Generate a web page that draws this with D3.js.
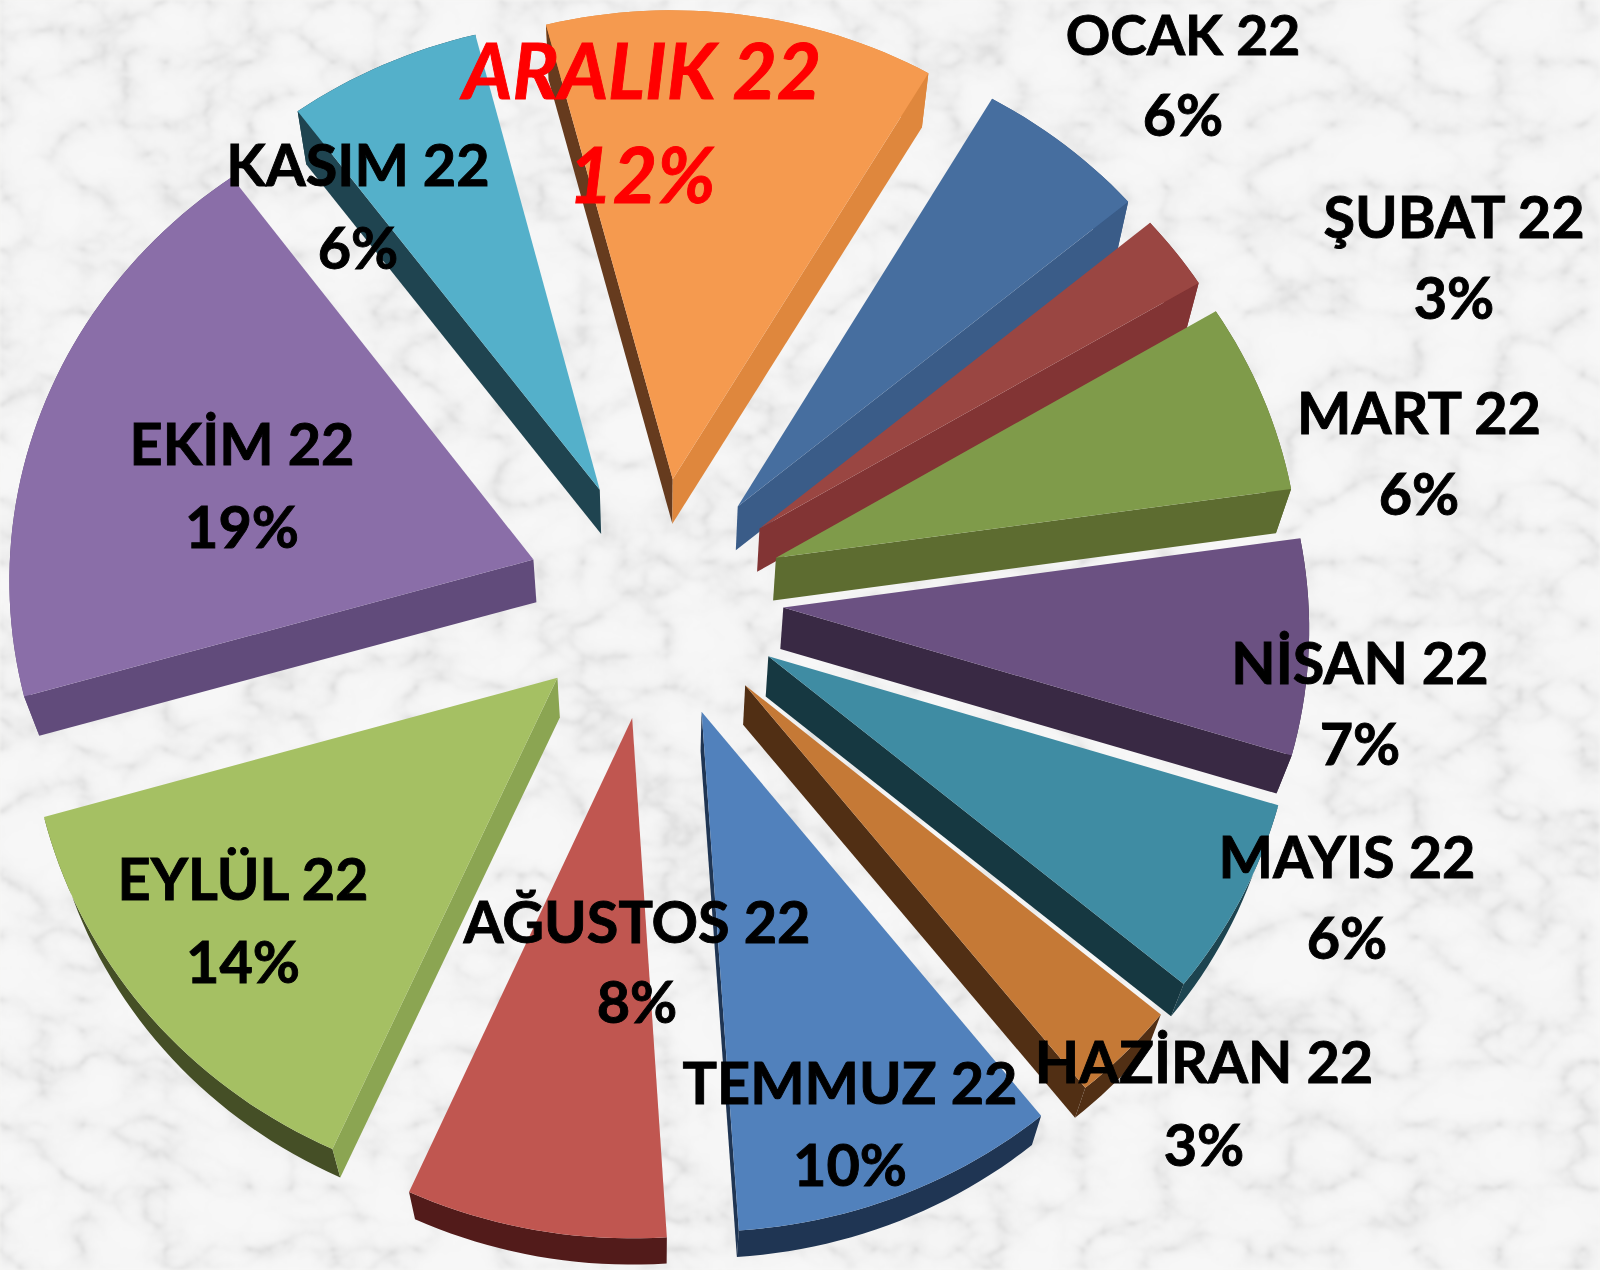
<!DOCTYPE html>
<html lang="tr">
<head>
<meta charset="utf-8">
<script src="https://d3js.org/d3.v7.min.js"></script>
<style>
html,body{margin:0;padding:0;background:#f6f6f5;}
svg{display:block;}
text{font-family:Lato,Carlito,"Open Sans",sans-serif;font-weight:700;text-anchor:middle;}
</style>
</head>
<body>
<svg id="chart" width="1600" height="1270"></svg>
<script>
// ---- data ----
const months = ["ARALIK 22","OCAK 22","ŞUBAT 22","MART 22","NİSAN 22","MAYIS 22","HAZİRAN 22","TEMMUZ 22","AĞUSTOS 22","EYLÜL 22","EKİM 22","KASIM 22"];
const shares = [12.5,5.5,2.5,6.3,7.05,6.35,3.2,9.65,7.7,13.9,19.25,6.2];
const percentLabels = ["12%","6%","3%","6%","7%","6%","3%","10%","8%","14%","19%","6%"];

// ---- styles ----
const topColors   = ["#F59A4F","#466E9F","#9A4642","#7F9B4A","#6B5182","#3F8CA3","#C57936","#5181BC","#C05650","#A5C063","#8A6EA8","#54B0CA"];
const rimColors   = ["#DF873D","#3A5C88","#823434","#5D6C30","#392944","#1D4450","#512F14","#1F3553","#521B1A","#454F26","#614B7B","#1F4450"];
const startColors = ["#663B1E","#2B4566","#5c2422","#434f22","#2a1d33","#163841","#512F14","#16273d","#3d1413","#8BA552","#614B7B","#1F4450"];
const endColors   = ["#DF873D","#3A5C88","#823434","#5D6C30","#392944","#163841","#512F14","#1F3553","#521B1A","#6c8040","#614B7B","#1F4450"];
// label centre x, first baseline y, second baseline y
const labelAnchors = [[642,99,203],[1183,55,136],[1454,238,319],[1419,434,515],[1360,684,765],[1347,878,959],[1204,1083,1166],[850,1104,1186],[637,943,1023],[243,900,983],[242,465,548],[358,186,269]];

// ---- geometry ----
const cx=655, cy=598, radius=525, tilt=0.94, persp=0.035, explode=0.245;
const vanish=[658,2333], depth=0.024;
const scaleR = d3.scaleLinear().domain([0,1]).range([0,radius]);

function project(u,v){
  const w=1+persp*v;
  return [cx+scaleR(u)/w, cy-scaleR(v)*tilt/w];
}
function lower(p){ return [p[0]+(vanish[0]-p[0])*depth, p[1]+(vanish[1]-p[1])*depth]; }

const svg=d3.select("#chart");
const defs=svg.append("defs");
const f=defs.append("filter").attr("id","marble").attr("x",0).attr("y",0).attr("width","100%").attr("height","100%")
  .attr("color-interpolation-filters","sRGB");
f.append("feTurbulence").attr("type","turbulence").attr("baseFrequency","0.012 0.016").attr("numOctaves",5).attr("seed",7);
f.append("feColorMatrix").attr("type","matrix").attr("values",
  "1 0 0 0 0  1 0 0 0 0  1 0 0 0 0  0 0 0 0 1");
const ct=f.append("feComponentTransfer");
["feFuncR","feFuncG","feFuncB"].forEach(n=>ct.append(n).attr("type","table").attr("tableValues",".85 .92 .95 .962 .968 .97 .97 .97 .97"));
f.append("feGaussianBlur").attr("stdDeviation",1.4);
svg.append("rect").attr("width",1600).attr("height",1270).attr("filter","url(#marble)");

const pie=d3.pie().sort(null).value(d=>d).startAngle(-14.5*Math.PI/180).endAngle(345.5*Math.PI/180);
const arcs=pie(shares);
const line=d3.line();

const slices=arcs.map((a,i)=>{
  const mid=(a.startAngle+a.endAngle)/2;
  const ox=explode*Math.sin(mid), oy=explode*Math.cos(mid);
  const n=Math.max(8,Math.ceil((a.endAngle-a.startAngle)*40));
  const rimTop=d3.range(n+1).map(k=>{
    const t=a.startAngle+(a.endAngle-a.startAngle)*k/n;
    return project(ox+Math.sin(t),oy+Math.cos(t));
  });
  const apex=project(ox,oy);
  return {i,apex,rimTop,rimLow:rimTop.map(p=>lower(p)),apexLow:lower(apex)};
});

const order=slices.slice().sort((a,b)=>a.apex[1]-b.apex[1]);
const gs=svg.selectAll("g.slice").data(order).join("g").attr("class","slice");

gs.each(function(s){
  const g=d3.select(this);
  // outer rim wall
  g.append("path").attr("d",line(s.rimTop.concat(s.rimLow.slice().reverse()))+"Z").attr("fill",rimColors[s.i]);
  // radial walls (only the ones facing the viewer)
  const first=[s.apex,s.rimTop[0],s.rimLow[0],s.apexLow];
  const last=[s.apex,s.rimTop[s.rimTop.length-1],s.rimLow[s.rimLow.length-1],s.apexLow];
  if(d3.polygonArea(first)>0) g.append("path").attr("d",line(first)+"Z").attr("fill",startColors[s.i]);
  if(d3.polygonArea(last)<0)  g.append("path").attr("d",line(last)+"Z").attr("fill",endColors[s.i]);
  // top face
  g.append("path").attr("d",line([s.apex].concat(s.rimTop))+"Z").attr("fill",topColors[s.i]);
});

// ---- labels ----
months.forEach((m,i)=>{
  const [x,y1,y2]=labelAnchors[i];
  const hi=i===0;
  const col=hi?"#FF0000":"#000";
  const size=hi?76.5:57.6;
  const t=svg.append("g").attr("fill",col).attr("stroke",col).attr("stroke-width",0.9)
    .attr("font-size",size).attr("font-style",hi?"italic":"normal");
  t.append("text").attr("x",x).attr("y",y1).attr("font-size",i===1?55.2:size).text(m);
  t.append("text").attr("x",x).attr("y",y2).text(percentLabels[i]);
});
</script>
</body>
</html>
